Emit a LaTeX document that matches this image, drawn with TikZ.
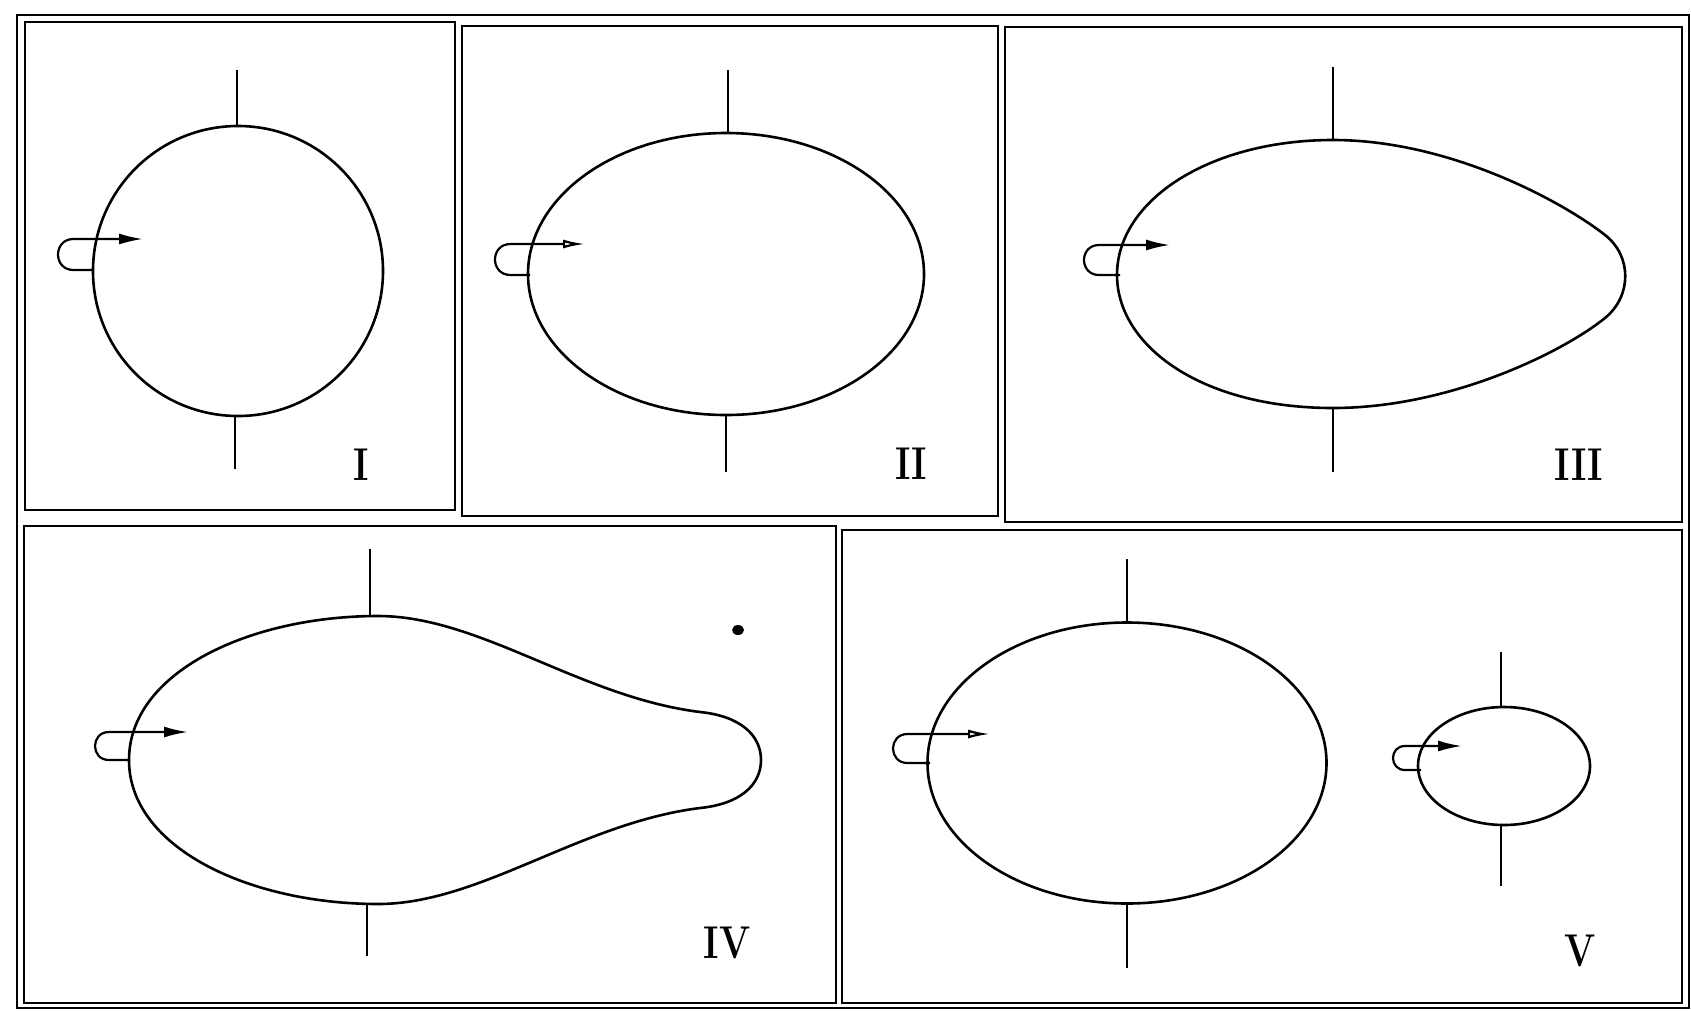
\documentclass[tikz,border=0pt]{standalone}
\usetikzlibrary{arrows.meta}
\newcommand\drawhook[6]{%
  % #1 x where lower arm meets outline, #2 y upper arm, #3 y lower arm,
  % #4 leftmost x of loop, #5 x of arrow tip, #6 tip style
  \pgfmathsetmacro\hkr{(#3-#2)/2}%
  \pgfmathsetmacro\hkc{#4+\hkr}%
  \pgfmathsetmacro\hkk{#4-0.333*\hkr}%
  \draw[hookline,#6] (#1,#3) -- (\hkc,#3) .. controls (\hkk,#3) and (\hkk,#2) .. (\hkc,#2) -- (#5,#2);
}
\begin{document}
\begin{tikzpicture}[x=1pt,y=-1pt,
  frame/.style={line width=2.2pt},
  outline/.style={line width=2.6pt},
  axisline/.style={line width=2pt},
  hookline/.style={line width=2.2pt},
  fullhead/.style={-{Latex[length=24pt,width=11pt]}},
  openhead/.style={-{Latex[open,length=22pt,width=9pt]}},
  numlabel/.style={font=\fontsize{46}{46}\selectfont\bfseries, inner sep=0pt, xscale=0.8}]
\useasboundingbox (0,0) rectangle (1691,1010);
\fill[white] (0,0) rectangle (1691,1010);

% frames
\draw[frame] (17,15) rectangle (1689,1008);
\draw[frame] (25,22) rectangle (455,510);
\draw[frame] (462,26) rectangle (998,516);
\draw[frame] (1005,27) rectangle (1682,522);
\draw[frame] (24,526) rectangle (836,1003);
\draw[frame] (842,530) rectangle (1682,1003);

% ---------- Panel I ----------
\draw[outline] (238,271) circle [radius=145];
\draw[axisline] (237,70) -- (237,126);
\draw[axisline] (235,416) -- (235,469);
\drawhook{93}{239}{270}{58}{143}{fullhead}
\node[numlabel] (labI) at (361,465) {I};

% ---------- Panel II ----------
\draw[outline] (726,274) ellipse [x radius=198, y radius=141];
\draw[axisline] (728,70) -- (728,133);
\draw[axisline] (726,415) -- (726,472);
\drawhook{530}{244}{275}{495}{585}{openhead}
\node[numlabel] (labII) at (911,464) {II};

% ---------- Panel III ----------
\draw[outline] (1117,275) .. controls (1117,200) and (1210,140) .. (1333,140)
  .. controls (1450,140) and (1563,202) .. (1605,235)
  .. controls (1632,256) and (1632,296) .. (1605,318)
  .. controls (1563,352) and (1450,408) .. (1333,408)
  .. controls (1200,408) and (1117,345) .. (1117,275) -- cycle;
\draw[axisline] (1333,67) -- (1333,140);
\draw[axisline] (1333,408) -- (1333,472);
\drawhook{1120}{245}{275}{1084}{1170}{fullhead}
\node[numlabel] (labIII) at (1579,465) {III};

% ---------- Panel IV ----------
\draw[outline] (129,760) .. controls (129,672) and (250,616) .. (378,616)
  .. controls (480,616) and (580,697) .. (700,712)
  .. controls (740,716) and (761,735) .. (761,760)
  .. controls (761,785) and (740,804) .. (700,808)
  .. controls (580,823) and (480,904) .. (378,904)
  .. controls (250,904) and (129,848) .. (129,760) -- cycle;
\draw[axisline] (370,549) -- (370,616);
\draw[axisline] (367,904) -- (367,956);
\drawhook{130}{732}{760}{95}{188}{fullhead}
\fill (738,630) ellipse [x radius=6, y radius=5];
\node[numlabel] (labIV) at (727,943) {IV};

% ---------- Panel V ----------
\draw[outline] (1127,763) ellipse [x radius=199.5, y radius=140.5];
\draw[axisline] (1127,559) -- (1127,623);
\draw[axisline] (1127,904) -- (1127,968);
\drawhook{930}{734}{763}{893}{990}{openhead}
\draw[outline] (1504,766) ellipse [x radius=86, y radius=59];
\draw[axisline] (1501,652) -- (1501,707);
\draw[axisline] (1501,825) -- (1501,886);
\drawhook{1421}{746}{770}{1393}{1462}{fullhead}
\node[numlabel] (labV) at (1580,951) {V};
\end{tikzpicture}
\end{document}
